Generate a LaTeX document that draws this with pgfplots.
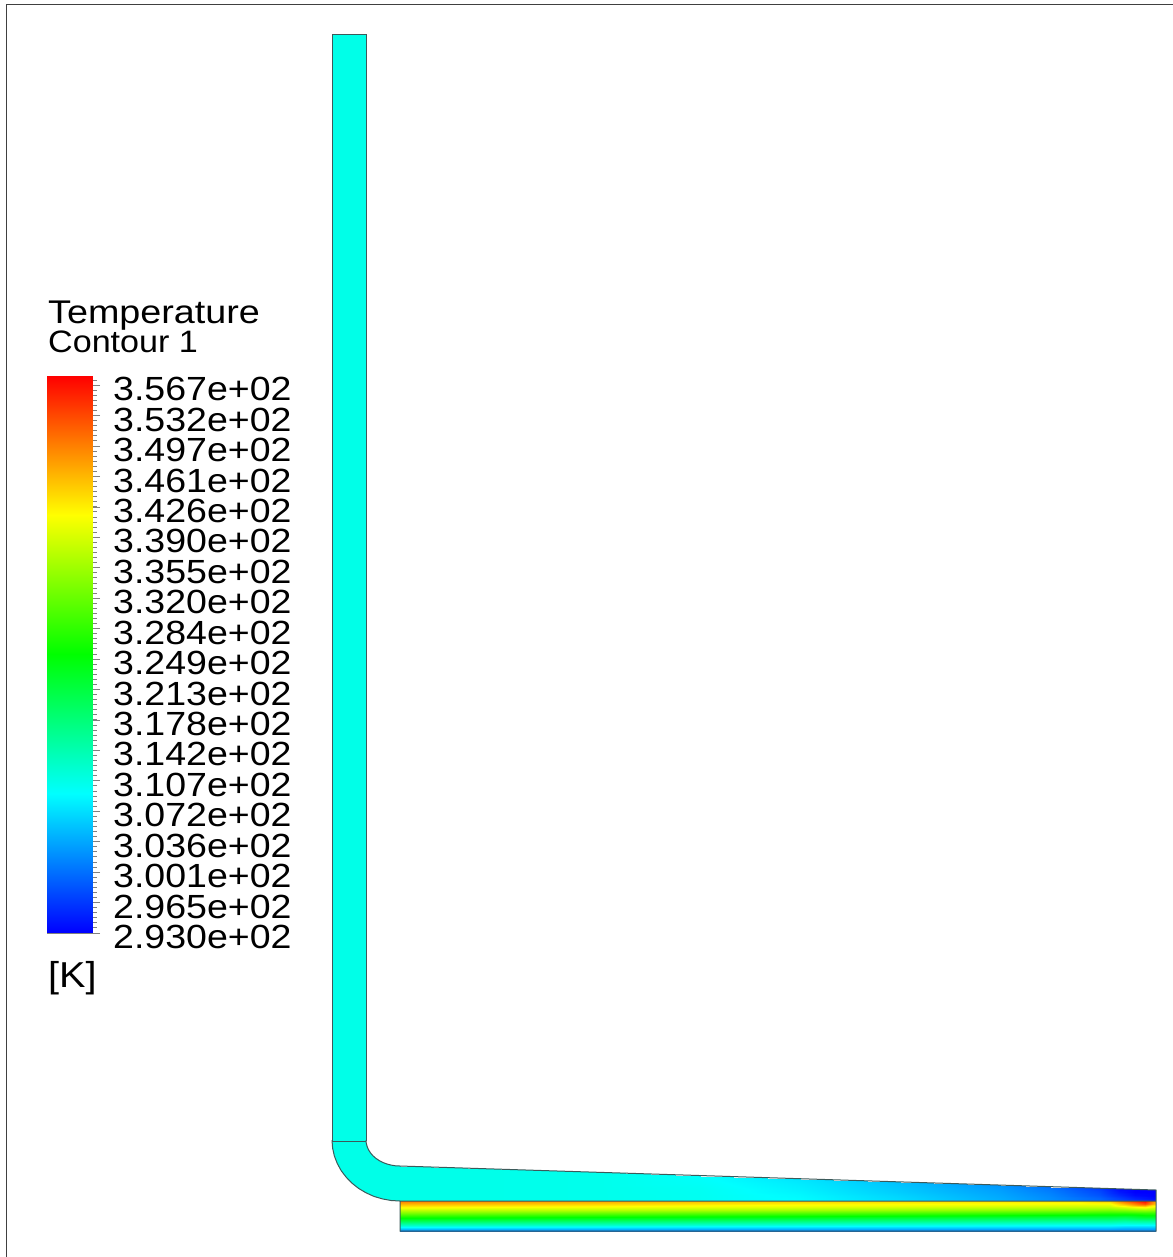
\documentclass[border=0pt]{standalone}
\usepackage{pgfplots}
\pgfplotsset{compat=1.18}
\usepackage{fontspec}
\setmainfont{Liberation Sans}
\newfontfamily\wideA[FakeStretch=1.10]{Liberation Sans}
\newfontfamily\wideB[FakeStretch=1.15]{Liberation Sans}
\newfontfamily\wideC[FakeStretch=1.12]{Liberation Sans}
\pgfplotsset{colormap={ansys}{rgb255=(0,0,255) rgb255=(0,255,255) rgb255=(0,255,0) rgb255=(255,255,0) rgb255=(255,0,0)}}
\definecolor{pipecol}{RGB}{0,255,232}
\definecolor{edgecol}{RGB}{60,90,90}
\begin{document}
\begin{tikzpicture}
\path[use as bounding box] (0,0) rectangle (1173bp,1257bp);
\begin{axis}[
  at={(0,0)},anchor=south west,
  scale only axis,width=1173bp,height=1257bp,
  xmin=0,xmax=1173,ymin=0,ymax=1257,y dir=reverse,
  hide axis,clip=false,
  colormap name=ansys,point meta min=293,point meta max=357.78,
]
% frame
\addplot[draw=black!75,line width=1.6bp] coordinates {(6.5,1257) (6.5,4.5) (1173,4.5)};
% vertical pipe
\addplot[fill=pipecol,draw=none] coordinates {(332,35) (366,35) (366,1141) (332,1141)} --cycle;
% elbow
\addplot[fill=pipecol,draw=none] coordinates {(332,1140) (332.6,1148) (334.3,1155.8) (337.2,1163.3) (341.1,1170.5) (346.1,1177.1) (351.9,1183.1) (358.6,1188.4) (366,1192.8) (374,1196.4) (382.4,1198.9) (391.1,1200.5) (400,1201) (400,1166) (395.6,1165.8) (391.2,1165.1) (387,1164) (383,1162.5) (379.3,1160.6) (376,1158.4) (373,1155.8) (370.6,1153) (368.6,1149.9) (367.2,1146.7) (366.3,1143.4) (366,1140)} --cycle;
% sloped fluid zone
\addplot[surf,shader=interp,mesh/cols=11,point meta=explicit] table[x=x,y=y,meta=T] {
x y T
400 1166 310.6
600 1172.3 310.4
700 1175.5 309.4
800 1178.7 307.6
900 1181.9 305.2
1000 1185 302.5
1050 1186.6 300.2
1100 1188.2 296.6
1120 1188.8 293.6
1135 1189.3 293
1156 1190 293
400 1175 310.6
600 1179.5 310.4
700 1182 309.6
800 1184.3 308
900 1186.7 305.6
1000 1189 303
1050 1190.2 300.8
1100 1191.4 297.4
1120 1191.9 294.4
1135 1192.2 293
1156 1192.8 293
400 1184 310.6
600 1186.5 310.4
700 1188 309.9
800 1189.8 308.4
900 1191.5 306
1000 1193 303.4
1050 1193.8 301.4
1100 1194.6 298.2
1120 1194.9 295.4
1135 1195.2 293.6
1156 1195.5 293
400 1192.5 310.6
600 1193.7 310.4
700 1194.5 310
800 1195.4 308.8
900 1196.2 306.5
1000 1197 303.8
1050 1197.4 301.8
1100 1197.8 299.2
1120 1198 296.8
1135 1198.1 295
1156 1198.3 293.5
400 1201 310.6
600 1201 310.4
700 1201 310
800 1201 309.2
900 1201 307
1000 1201 304.2
1050 1201 302.2
1100 1201 299.8
1120 1201 298
1135 1201 296.5
1156 1201 294.5
};
% solid zone
\addplot[surf,shader=interp,mesh/cols=8,point meta=explicit] table[x=x,y=y,meta=T] {
x y T
400 1201 350
600 1201 347.4
800 1201 344.8
1080 1201 343
1110 1201 344.8
1125 1201 351.3
1145 1201 357.7
1156 1201 348
400 1204 346.1
600 1204 344.2
800 1204 342.2
1080 1204 340.9
1110 1204 340.9
1125 1204 346.1
1145 1204 352.6
1156 1204 344.8
400 1207 342.2
600 1207 340.9
800 1207 339.6
1080 1207 337.7
1110 1207 337.7
1125 1207 339.6
1145 1207 342.2
1156 1207 339.6
400 1210 337.7
600 1210 337
800 1210 335.8
1080 1210 333.8
1110 1210 333.2
1125 1210 333.8
1145 1210 335.1
1156 1210 334.5
400 1213 333.2
600 1213 331.9
800 1213 330.6
1080 1213 328.6
1110 1213 328
1125 1213 328
1145 1213 328.6
1156 1213 328.6
400 1217 326.7
600 1217 325.4
800 1217 324.1
1080 1217 321.5
1110 1217 321.5
1125 1217 320.9
1145 1217 322.8
1156 1217 322.8
400 1221 320.2
600 1221 318.9
800 1221 317.6
1080 1221 315.7
1110 1221 315.7
1125 1221 315
1145 1221 315.7
1156 1221 315.7
400 1225 313.1
600 1225 312.4
800 1225 311.1
1080 1225 309.8
1110 1225 309.8
1125 1225 309.2
1145 1225 309.2
1156 1225 309.2
400 1228 307.3
600 1228 306.6
800 1228 306
1080 1228 305.3
1110 1228 305.3
1125 1228 304.7
1145 1228 304.7
1156 1228 304.7
400 1231 300.8
600 1231 300.8
800 1231 300.8
1080 1231 300.8
1110 1231 300.8
1125 1231 300.8
1145 1231 300.8
1156 1231 300.8
};
% outlines
\addplot[draw=edgecol,line width=1bp] coordinates {(332,1141) (332,35) (366,35) (366,1141)};
\addplot[draw=edgecol,line width=1bp] coordinates {(332,1141) (366,1141)};
\addplot[draw=edgecol,line width=1bp] coordinates {(332,1140) (332.6,1148) (334.3,1155.8) (337.2,1163.3) (341.1,1170.5) (346.1,1177.1) (351.9,1183.1) (358.6,1188.4) (366,1192.8) (374,1196.4) (382.4,1198.9) (391.1,1200.5) (400,1201)};
\addplot[draw=edgecol,line width=1bp] coordinates {(366,1140) (366.3,1143.4) (367.2,1146.7) (368.6,1149.9) (370.6,1153) (373,1155.8) (376,1158.4) (379.3,1160.6) (383,1162.5) (387,1164) (391.2,1165.1) (395.6,1165.8) (400,1166) (1156,1190) (1156,1231) (400,1231) (400,1201) (1156,1201)};
\node[anchor=base west,inner sep=0pt,font=\wideB\fontsize{32.8bp}{34bp}\selectfont] at (axis cs:48,323) {Temperature};
\node[anchor=base west,inner sep=0pt,font=\wideA\fontsize{31bp}{34bp}\selectfont] at (axis cs:48,352.5) {Contour 1};
\node[anchor=base west,inner sep=0pt,font=\wideA\fontsize{36bp}{40bp}\selectfont] at (axis cs:48,987) {[K]};
\end{axis}
% colour bar
\begin{axis}[
  at={(47bp,324bp)},anchor=south west,
  scale only axis,width=45bp,height=557bp,
  xmin=0,xmax=1,ymin=293,ymax=357.78,
  axis line style={draw=gray,line width=0.8bp},
  xtick=\empty,
  ytick={293,296.54,300.08,303.62,307.16,310.69,314.23,317.77,321.31,324.85,328.39,331.93,335.47,339.01,342.54,346.08,349.62,353.16,356.70},
  yticklabels={2.930e+02,2.965e+02,3.001e+02,3.036e+02,3.072e+02,3.107e+02,3.142e+02,3.178e+02,3.213e+02,3.249e+02,3.284e+02,3.320e+02,3.355e+02,3.390e+02,3.426e+02,3.461e+02,3.497e+02,3.532e+02,3.567e+02},
  minor ytick={293,293.59,...,357.8},
  tick pos=right,yticklabel pos=right,
  tick align=outside,
  major tick length=8bp,minor tick length=4.5bp,
  major tick style={draw=gray,line width=0.9bp},
  minor tick style={draw=gray,line width=0.9bp},
  yticklabel style={font=\wideC\fontsize{33.5bp}{34bp}\selectfont,anchor=west,xshift=13bp,yshift=-4bp,inner sep=0pt,text=black},
  colormap name=ansys,point meta min=293,point meta max=357.78,
]
\addplot[surf,shader=interp,mesh/cols=2,point meta=explicit] table[x=x,y=y,meta=T] {
x y T
0 293 293
1 293 293
0 325.39 325.39
1 325.39 325.39
0 357.78 357.78
1 357.78 357.78
};
\end{axis}
\end{tikzpicture}
\end{document}
